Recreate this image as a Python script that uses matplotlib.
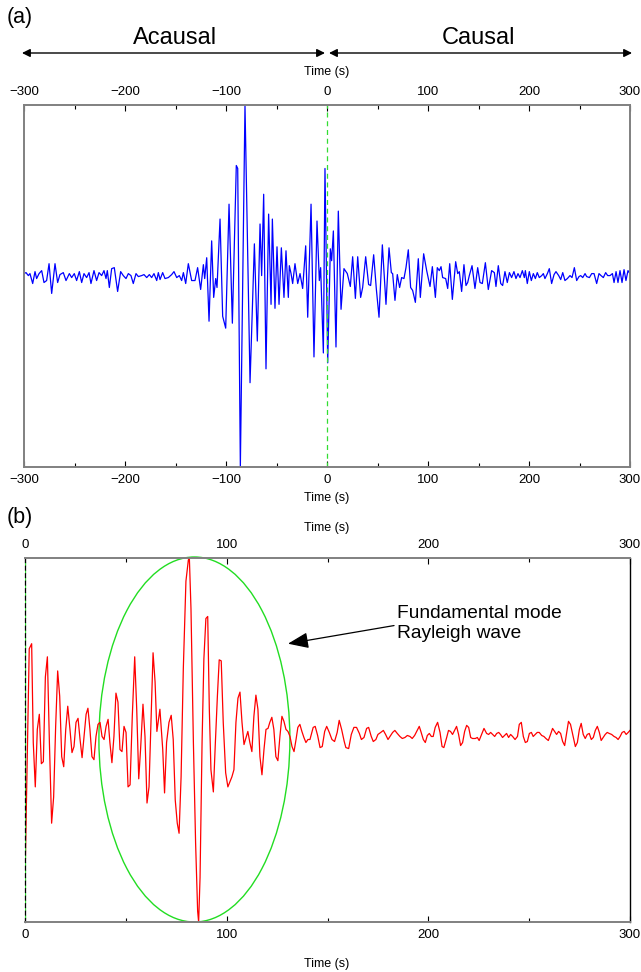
import numpy as np
import matplotlib.pyplot as plt
from matplotlib.patches import Ellipse

plt.rcParams['font.family'] = ['Liberation Sans', 'DejaVu Sans']

# (a) cross-correlation, acausal + causal, vertices
TIME_A = [
    -300, -298, -295.7, -294.1, -291.4, -289.1, -287.5, -285.1, -282.5, -280.2,
    -277.6, -275.2, -272.6, -269.3, -266.7, -264.4, -261.1, -258.4, -255.1, -252.8,
    -250.2, -247.9, -245.2, -242.9, -240.6, -238.0, -235.6, -233.7, -230.7, -228.1,
    -225.7, -223.1, -220.8, -218.8, -217.5, -215.5, -213.2, -210.6, -207.3, -204.3,
    -201.7, -199.0, -196.7, -194.1, -191.8, -189.1, -186.8, -183.5, -181.2, -178.5,
    -175.9, -173.6, -171.3, -168.6, -167.0, -165.3, -162.7, -160.4, -157.1, -153.8,
    -151.5, -148.8, -146.2, -143.9, -142.2, -139.9,
    -137.3, -134.0, -130.7, -128.1, -125.1, -122.4, -121.1, -119.1, -116.8, -114.2,
    -112.2, -110.2, -108.9, -105.9, -103.3, -100.3, -97.0, -93.7, -89.8, -88.4,
    -85.8, -81.2, -76.2, -71.9, -69.0, -66.3, -64.7, -62.7, -60.4, -57.8,
    -55.4, -54.1, -51.5, -49.5, -47.5, -45.2, -42.6, -40.6, -38.3, -37.3,
    -35.6, -34.0, -31.7, -29.0, -26.7, -24.1, -21.1, -19.1, -15.8, -12.9,
    -9.9, -7.6, -6.3, -3.6, -2.0, 0.7, 3.3, 4.6, 6.3, 8.9,
    11.2, 13.9, 16.8, 20.1, 23.1,
    25.4, 28.1, 30.4, 33.3, 35.3, 38.3, 41.2, 43.2, 46.2, 48.8,
    51.5, 54.8, 58.4, 61.4, 63.7, 65.0, 67.3, 69.6, 71.9, 73.9,
    76.2, 78.2, 80.5, 82.8, 84.8, 87.5, 90.4, 92.4, 95.7, 98.7,
    102.0, 104.3, 107.3, 109.2, 111.2, 112.9, 114.5, 117.5, 119.5, 121.5,
    124.1, 127.4, 129.4, 131.0, 133.3, 135.6, 137.6, 139.3, 140.9, 143.6,
    146.5, 149.2, 151.5, 153.8, 156.8, 159.7, 163.0, 165.7,
    167.3, 169.6, 172.0, 173.9, 176.2, 178.5, 180.6, 182.8, 185.1, 187.1,
    189.1, 191.1, 193.4, 195.4, 196.4, 198.3, 200.3, 202.3, 204.3, 206.3,
    208.2, 210.2, 212.6, 214.2, 215.8, 218.2, 220.1, 222.4, 224.8, 226.7,
    229.4, 231.4, 233.4, 235.6, 238.0, 240.6, 242.6, 244.9, 247.2, 249.5,
    251.2, 253.2, 255.5, 257.1, 259.8, 262.1, 264.4, 267.0, 269.3, 271.3,
    273.6, 275.9, 277.9, 280.2, 282.6, 284.2, 286.2, 288.1, 290.1, 292.1,
    294.1, 296.0, 298.0, 300.0,
]
AMP_A = [
    2, 3, 0, 2, -8, 4, -3, 2, 5, -7,
    -5, 12, -18, 12, -7, 1, 3, -5, 2, -2,
    2, -5, 4, -7, 2, -2, 3, -8, 5, -5,
    3, 0, 5, -3, 5, -12, 7, 8, -16, 4,
    0, -3, 2, 0, -8, 2, -1, 0, 1, -2,
    1, -2, 2, -5, 3, -4, 3, -3, -2, 1,
    4, -2, 0, -5, 3, -8,
    12, -5, -5, 8, -14, 11, -3, 18, -46, 35,
    -22, -3, -12, 57, -41, -53, 72, -48, 111, 108,
    -193, 172, -108, 32, -66, 52, 0, 82, -94, 62,
    -29, 57, -33, 29, -29, 28, -22, 25, -22, 10,
    2, -8, 12, -8, 2, -13, 30, -42, 72, -82,
    55, -5, 8, -78, 108, -88, 27, 15, 45, -72,
    65, -34, 7, 2, -11,
    19, -23, 19, -22, -12, 19, -9, -10, 21, -13,
    -42, 31, -29, 28, 3, 2, -25, 1, -12, -2,
    -3, 8, 26, -12, -15, -27, 17, -22, 22, 5,
    -11, 9, -22, 8, 5, 9, -2, -3, -13, 12,
    -24, 14, 2, 4, -16, 11, -10, -7, 0, 10,
    -13, 8, -7, -8, 13, -14, 5, 3,
    -11, 10, -8, -10, 4, -7, 3, -2, 4, -3,
    2, -2, 5, -2, 5, -8, 4, -5, 2, -3,
    3, -2, 0, 2, -3, 2, 7, -8, 1, 4,
    0, -4, 3, -5, -3, 0, -2, 8, -5, -1,
    0, -2, 2, -1, -2, 2, 2, -8, 2, 0,
    -2, 3, 0, 0, 2, -7, 4, -7, 5, -7,
    6, -5, 5, 2,
]

# (b) stacked / symmetric trace, 0-300 s
TIME_B = [
    0, 2.1, 3.3, 4.1, 5.1, 6.1, 7.1, 8.1, 9.1, 10.1,
    11.1, 12.1, 13.2, 14.2, 15.2, 16.2, 17.2, 18.2, 19.2, 20.2,
    21.2, 22.3, 23.3, 24.3, 25.3, 26.3, 27.3, 28.3, 29.3, 30.3,
    31.2, 32.2, 33.2, 34.2, 35.2, 36.2, 37.2, 38.2, 39.2, 40.2,
    41.2, 42.1, 43.1, 44.1, 45.1, 46.1, 47.1, 48.1, 49.1, 50.1,
    51.1, 52.1, 53.2, 54.4, 55.4, 56.4, 57.3, 58.5, 59.5, 60.5,
    61.5, 62.5, 63.5, 64.5, 65.4,
    66.9, 68.3, 69.2, 70.2, 71.4, 72.5, 73.5, 74.5, 75.5, 76.4,
    77.4, 78.5, 79.8, 81.0, 81.5, 82.3, 83.5, 84.6, 85.6, 86.1,
    86.8, 87.8, 88.7, 89.7, 90.6, 91.4, 92.2, 93.4, 94.4, 95.4,
    96.3, 97.3, 98.3, 99.5, 100.6, 101.6, 102.6, 103.6, 104.6, 105.6,
    106.6, 107.6, 108.6, 109.6, 110.5, 111.5, 112.5, 113.5, 114.5, 115.5,
    116.5, 117.5, 118.5, 119.5, 120.5, 121.4, 122.4, 123.4, 124.4, 125.4,
    126.4, 127.4, 128.4, 129.4, 130.4, 131.4, 132.4, 133.4, 134.4, 135.3,
    136.3, 137.3, 138.3, 139.3, 140.3,
    141.3, 142.9, 143.9, 145.1, 146.3, 147.4, 148.6, 149.6, 150.9, 152.2,
    153.5, 154.8, 155.8, 157.0, 158.3, 159.1, 160.5, 161.8, 163.1, 164.4,
    165.8, 166.8, 168.1, 169.4, 170.4, 171.7, 172.7, 174.0, 175.0, 176.4,
    177.7, 178.8, 180.0, 181.0, 182.3, 183.4, 184.6, 185.9, 187.1, 188.4,
    189.6, 190.9, 192.0, 193.2, 194.5, 195.5, 196.3, 197.5, 198.5, 199.5,
    200.5, 201.5, 202.4, 203.4, 204.6, 205.8, 206.8, 207.7, 209.1, 210.0,
    211.0, 212.0, 213.0, 214.0, 215.0, 216.0, 217.0, 218.0, 219.0, 220.0,
    221.0, 221.9, 223.3, 224.3, 225.2, 226.4, 227.6, 228.9, 229.9, 230.9,
    231.9, 232.9, 233.9, 234.9, 235.8, 236.8, 237.8, 238.8, 239.8, 240.8,
    241.8, 243.0, 244.2, 245.1, 246.1, 247.1, 248.1, 249.1, 250.1, 251.1,
    252.0, 253.0, 254.0, 255.0, 256.2, 257.3, 258.3, 259.5, 260.6, 261.6,
    262.6, 263.6, 264.6, 265.6, 266.6, 267.6, 268.6, 269.5, 270.5, 271.9,
    272.9, 273.9, 274.9, 275.8, 276.8, 277.8, 278.8, 279.8, 280.8, 281.8,
    282.8, 283.8, 284.8, 285.7, 286.7, 287.7, 288.7, 289.7, 290.9, 292.1,
    293.1, 294.1, 295.1, 296.1, 297.1, 298.1, 299.1, 300.0,
]
AMP_B = [
    -145, 85, 90, -8, -52, 5, 20, -29, -27, 57,
    77, -8, -88, -62, 8, 63, 38, -22, -32, 5,
    28, 5, -18, -12, 12, 16, -5, -23, -2, 20,
    26, 5, -22, -25, -2, 10, 12, -2, -5, 8,
    15, -8, -28, -2, 41, 32, -15, -17, 8, 2,
    -52, -50, 18, 77, 25, -44, -15, 30, -2, -68,
    -52, 15, 81, 52, 3,
    25, -15, -58, -8, 12, 19, -5, -65, -88, -98,
    -42, 65, 152, 173, 175, 125, -8, -108, -175, -186,
    -142, -8, 75, 115, 117, 25, -35, -57, -8, 38,
    74, 73, 12, -38, -52, -47, -42, -35, 12, 36,
    42, 12, -10, -3, 3, -8, -17, 18, 39, 25,
    -22, -40, -15, 5, 6, 12, 17, 5, -22, -26,
    -2, 18, 13, 5, 3, -2, -12, -17, -5, 7,
    10, 3, -3, -8, -5,
    -5, 7, 8, -1, -13, -12, 3, 8, 2, -5,
    -7, 2, 14, 5, -7, -13, -14, 0, 7, 7,
    1, -5, -3, 6, 7, -2, -7, -5, 0, 2,
    4, 0, -5, -2, 2, 4, 1, -2, -4, -3,
    -1, -2, -4, -1, 4, 8, 3, -5, -8, -1,
    1, -2, -2, 7, 12, 2, -12, -13, -3, 4,
    3, 0, 4, 8, 0, -11, -8, 3, 9, 7,
    -3, -4, -4, -3, -6, 0, 6, 1, 0, 2,
    0, -2, 1, 2, 0, -3, -1, 1, -3, 0,
    -2, -5, -2, 10, 12, -2, -8, -7, 1, 2,
    -2, 0, 2, 2, -1, -2, -4, -6, 0, 6,
    3, 0, 3, 1, -7, -11, 2, 13, 10, -3,
    -12, -8, 5, 11, 0, -4, 0, 1, -5, -3,
    4, 8, 2, -6, -3, 0, 2, 1, 0, -2,
    -3, -5, -2, 2, 3, 0, 2, 4,
]

TICKS_A = [-300, -200, -100, 0, 100, 200, 300]
TICKS_B = [0, 100, 200, 300]

# highlighted fundamental-mode window in (b)
ELLIPSE_CENTER = (84.0, -5)
ELLIPSE_WIDTH = 94.7
ELLIPSE_HEIGHT = 362

W, H = 641, 972


def fx(x):
    return x / W


def fy(y):
    return 1 - y / H


def style_axis(ax, ticks, minor_step, right_color='#808080', right_lw=1.4):
    ax.set_xlim(ticks[0], ticks[-1])
    ax.set_xticks(ticks)
    ax.set_xticks(np.arange(ticks[0], ticks[-1] + 1, minor_step), minor=True)
    ax.set_yticks([])
    ax.tick_params(axis='x', which='both', direction='in', top=True, bottom=True,
                   labeltop=True, labelbottom=True, labelsize=9.5, color='k')
    ax.tick_params(axis='x', which='major', length=4, width=0.8, pad=5)
    ax.tick_params(axis='x', which='minor', length=3, width=0.8)
    for side in ['top', 'bottom', 'left']:
        ax.spines[side].set_color('#808080')
        ax.spines[side].set_linewidth(1.4)
    ax.spines['right'].set_color(right_color)
    ax.spines['right'].set_linewidth(right_lw)


fig = plt.figure(figsize=(W / 100, H / 100), dpi=100)
ax_a = fig.add_axes([fx(24), fy(467), fx(606), 362 / H])
ax_b = fig.add_axes([fx(25), fy(922), fx(605), 364 / H])

# ---- panel (a)
ax_a.plot(TIME_A, AMP_A, color='#0000ff', lw=0.9)
ax_a.axvline(0, color='#33dd33', ls=(0, (4, 3)), lw=0.9)
ax_a.set_ylim(min(AMP_A), max(AMP_A))
style_axis(ax_a, TICKS_A, 50)

fig.text(fx(7), fy(17), '(a)', fontsize=15.5, va='center', ha='left')
fig.text(fx(327), fy(72), 'Time (s)', fontsize=9, ha='center', va='center')
fig.text(fx(327), fy(498), 'Time (s)', fontsize=9, ha='center', va='center')

arrow_kw = dict(arrowstyle='<|-|>', color='k', lw=1.0, mutation_scale=12,
                shrinkA=0, shrinkB=0)
ax_a.annotate('', xy=(-302, fy(53)), xytext=(-2, fy(53)),
              xycoords=('data', 'figure fraction'),
              textcoords=('data', 'figure fraction'), arrowprops=arrow_kw,
              annotation_clip=False)
ax_a.annotate('', xy=(2, fy(53)), xytext=(302, fy(53)),
              xycoords=('data', 'figure fraction'),
              textcoords=('data', 'figure fraction'), arrowprops=arrow_kw,
              annotation_clip=False)
ax_a.annotate('Acausal', xy=(-150, fy(38)), xycoords=('data', 'figure fraction'),
              ha='center', va='center', fontsize=17, annotation_clip=False)
ax_a.annotate('Causal', xy=(150, fy(38)), xycoords=('data', 'figure fraction'),
              ha='center', va='center', fontsize=17, annotation_clip=False)

# ---- panel (b)
ax_b.plot(TIME_B, AMP_B, color='#ff0000', lw=0.9)
ax_b.set_ylim(min(AMP_B), max(AMP_B))
style_axis(ax_b, TICKS_B, 50, right_color='k', right_lw=1.0)
ax_b.spines['left'].set_color('k')
ax_b.spines['left'].set_linestyle((0, (3, 3)))
ax_b.spines['left'].set_linewidth(0.9)
ax_b.axvline(0, color='#33dd33', ls=(3, (3, 3)), lw=0.9)

ax_b.add_patch(Ellipse(ELLIPSE_CENTER, ELLIPSE_WIDTH, ELLIPSE_HEIGHT,
                       fill=False, edgecolor='#22dd22', lw=1.0, clip_on=False))

ax_b.annotate('', xy=(130.4, 90), xytext=(183, 108),
              arrowprops=dict(arrowstyle='-|>,head_length=0.9,head_width=0.35',
                              color='k', lw=0.9, mutation_scale=14,
                              shrinkA=0, shrinkB=0))
ax_b.text(184.5, 110, 'Fundamental mode\nRayleigh wave', fontsize=13.8,
          ha='left', va='center', linespacing=1.2)

fig.text(fx(7), fy(518), '(b)', fontsize=15.5, va='center', ha='left')
fig.text(fx(327), fy(528), 'Time (s)', fontsize=9, ha='center', va='center')
fig.text(fx(327), fy(964), 'Time (s)', fontsize=9, ha='center', va='center')

fig.savefig('out.png', dpi=100, facecolor='white')
